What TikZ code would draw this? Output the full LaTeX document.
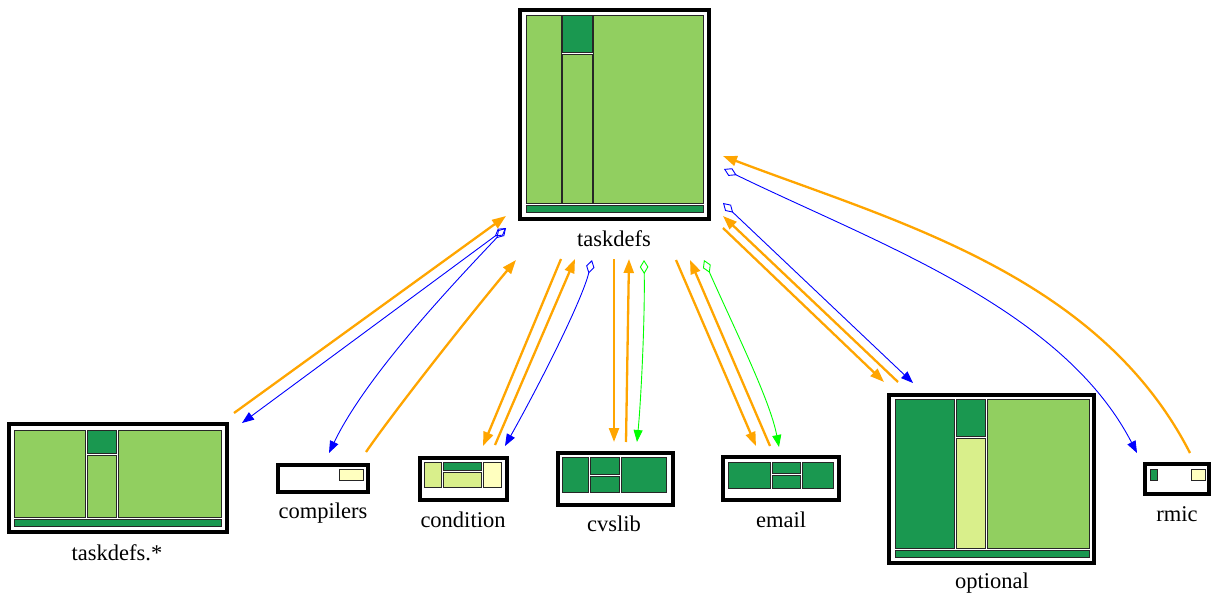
\documentclass[tikz,border=0pt]{standalone}
\usepackage{fontspec}
\setmainfont{Liberation Serif}
\newfontfamily\lblfont{Liberation Serif}
\usetikzlibrary{arrows.meta}
\definecolor{lgreen}{HTML}{91CF60}
\definecolor{dgreen}{HTML}{1A9850}
\definecolor{pgreen}{HTML}{D9EF8B}
\definecolor{pyellow}{HTML}{FFFFBF}
\definecolor{dorange}{HTML}{FFA500}
\begin{document}
\begin{tikzpicture}[x=1pt,y=-1pt,
    pkg/.style={draw, line width=4pt, fill=white, inner sep=0pt},
    cell/.style={draw=black!85, line width=1pt},
    lbl/.style={anchor=base, font=\lblfont\fontsize{22.5}{26}\selectfont},
    build/.style={dorange, line width=2.3pt, -{Triangle[length=14pt,width=10pt]}},
    calls/.style={blue, line width=0.9pt, {Diamond[open,length=14pt,width=8.5pt]}-{Triangle[length=12pt,width=9pt]}},
    refs/.style={green, line width=0.9pt, {Diamond[open,length=14pt,width=8.5pt]}-{Triangle[length=12pt,width=9pt]}}]
    \useasboundingbox (0,0) rectangle (1211,599);

    \node[pkg, minimum width=189pt, minimum height=209pt] (taskdefs) at (614.5,114.5) {};
    \draw[cell, fill=lgreen] (526,16) rectangle (561,204);
    \draw[cell, fill=dgreen] (562.5,16) rectangle (592,52.5);
    \draw[cell, fill=lgreen] (562.5,54.5) rectangle (592,204);
    \draw[cell, fill=lgreen] (593.5,16) rectangle (703,204);
    \draw[cell, fill=dgreen] (526,206) rectangle (703,213);
    \node[lbl] (taskdefs-l) at (614,246.5) {taskdefs};

    \node[pkg, minimum width=218pt, minimum height=108pt] (tdstar) at (118,478) {};
    \draw[cell, fill=lgreen] (14,430) rectangle (85.5,517);
    \draw[cell, fill=dgreen] (87.5,430) rectangle (116.5,453.5);
    \draw[cell, fill=lgreen] (87.5,455.5) rectangle (116.5,517);
    \draw[cell, fill=lgreen] (118.5,430) rectangle (221,517);
    \draw[cell, fill=dgreen] (14,519.5) rectangle (221,526.5);
    \node[lbl] (tdstar-l) at (117,560) {taskdefs.*};

    \node[pkg, minimum width=90pt, minimum height=27pt] (compilers) at (323,478) {};
    \draw[cell, fill=pyellow] (339,469.5) rectangle (363,480.5);
    \node[lbl] (compilers-l) at (323,518) {compilers};

    \node[pkg, minimum width=86.5pt, minimum height=42pt] (condition) at (463.25,479) {};
    \draw[cell, fill=pgreen] (424.5,462) rectangle (441.5,487.5);
    \draw[cell, fill=dgreen] (443,462) rectangle (481.5,470.5);
    \draw[cell, fill=pgreen] (443,472.5) rectangle (481.5,487.5);
    \draw[cell, fill=pyellow] (483.5,462) rectangle (501,487.5);
    \node[lbl] (condition-l) at (463,527) {condition};

    \node[pkg, minimum width=114.5pt, minimum height=52pt] (cvslib) at (615.25,478.5) {};
    \draw[cell, fill=dgreen] (562.5,457.5) rectangle (588.5,492.5);
    \draw[cell, fill=dgreen] (590.5,457.5) rectangle (619,474);
    \draw[cell, fill=dgreen] (590.5,476) rectangle (619,492.5);
    \draw[cell, fill=dgreen] (621,457.5) rectangle (666.5,492.5);
    \node[lbl] (cvslib-l) at (614,531) {cvslib};

    \node[pkg, minimum width=116.5pt, minimum height=43pt] (email) at (780.75,478.5) {};
    \draw[cell, fill=dgreen] (728,462) rectangle (770,488);
    \draw[cell, fill=dgreen] (772,462) rectangle (800.5,473);
    \draw[cell, fill=dgreen] (772,475) rectangle (800.5,488);
    \draw[cell, fill=dgreen] (802.5,462) rectangle (833.5,488);
    \node[lbl] (email-l) at (781,527) {email};

    \node[pkg, minimum width=205pt, minimum height=168.5pt] (optional) at (991.5,478.75) {};
    \draw[cell, fill=dgreen] (895,399) rectangle (954.5,548.5);
    \draw[cell, fill=dgreen] (956.5,399) rectangle (985.5,436);
    \draw[cell, fill=pgreen] (956.5,438) rectangle (985.5,548.5);
    \draw[cell, fill=lgreen] (987.5,399) rectangle (1089,548.5);
    \draw[cell, fill=dgreen] (895,550.5) rectangle (1089,557.5);
    \node[lbl] (optional-l) at (992,588) {optional};

    \node[pkg, minimum width=64.5pt, minimum height=30pt] (rmic) at (1176.75,478.5) {};
    \draw[cell, fill=dgreen] (1150,469.5) rectangle (1157.5,480.5);
    \draw[cell, fill=pyellow] (1191,469.5) rectangle (1205,480.5);
    \node[lbl] (rmic-l) at (1177,521) {rmic};

    \coordinate (tdstar-o1) at (234,413);
    \coordinate (td-o1) at (506,216);
    \coordinate (td-b1) at (506,228);
    \coordinate (tdstar-b1) at (242,423);
    \coordinate (compilers-b2) at (329,453);
    \coordinate (compilers-o2) at (366,452);
    \coordinate (td-o2) at (516,260);
    \coordinate (td-o3) at (561,259);
    \coordinate (condition-o3) at (483,446);
    \coordinate (condition-o4) at (495,445);
    \coordinate (td-o4) at (575,259);
    \coordinate (td-b3) at (592,260);
    \coordinate (condition-b3) at (505,446);
    \coordinate (td-o5) at (614,259);
    \coordinate (cvslib-o5) at (614,442);
    \coordinate (cvslib-o6) at (626,442);
    \coordinate (td-o6) at (629,259);
    \coordinate (td-g1) at (644,260);
    \coordinate (cvslib-g1) at (637,442);
    \coordinate (td-o7) at (676,260);
    \coordinate (email-o7) at (756,446);
    \coordinate (email-o8) at (770,446);
    \coordinate (td-o8) at (690,260);
    \coordinate (td-g2) at (704,260);
    \coordinate (email-g2) at (779,447);
    \coordinate (rmic-o9) at (1190,453);
    \coordinate (td-o9) at (723,156);
    \coordinate (td-b4) at (724,169);
    \coordinate (rmic-b4) at (1137,453);
    \coordinate (td-b5) at (723,203);
    \coordinate (optional-b5) at (913,383);
    \coordinate (optional-o10) at (898,382);
    \coordinate (td-o10) at (723,216);
    \coordinate (td-o11) at (723,228);
    \coordinate (optional-o11) at (884,382);

    \draw[build] (tdstar-o1) -- (td-o1);
    \draw[calls] (td-b1) -- (tdstar-b1);
    \draw[calls] (td-b1) .. controls (452,285) and (366,376) .. (compilers-b2);
    \draw[build] (compilers-o2) .. controls (395,410) and (470,315) .. (td-o2);
    \draw[build] (td-o3) -- (condition-o3);
    \draw[build] (condition-o4) -- (td-o4);
    \draw[calls] (td-b3) .. controls (582,300) and (542,380) .. (condition-b3);
    \draw[build] (td-o5) -- (cvslib-o5);
    \draw[build] (cvslib-o6) -- (td-o6);
    \draw[refs] (td-g1) .. controls (645,320) and (641,400) .. (cvslib-g1);
    \draw[build] (td-o7) -- (email-o7);
    \draw[build] (email-o8) -- (td-o8);
    \draw[refs] (td-g2) .. controls (735,330) and (770,400) .. (email-g2);
    \draw[build] (rmic-o9) .. controls (1099,275) and (894,221) .. (td-o9);
    \draw[calls] (td-b4) .. controls (876,243) and (1062,308) .. (rmic-b4);
    \draw[calls] (td-b5) -- (optional-b5);
    \draw[build] (optional-o10) -- (td-o10);
    \draw[build] (td-o11) -- (optional-o11);
\end{tikzpicture}
\end{document}
